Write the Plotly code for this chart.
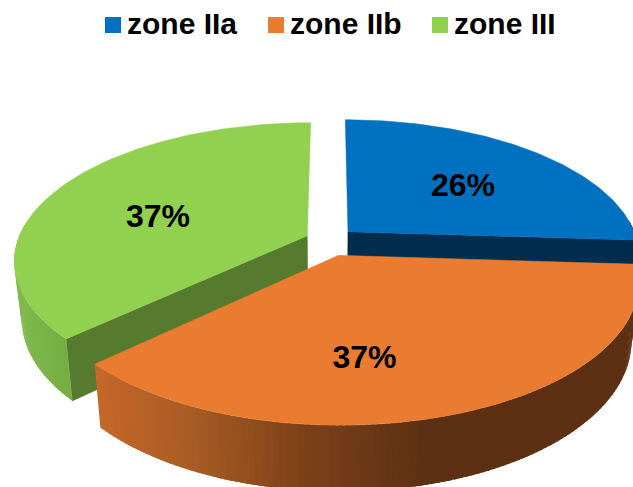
import math
import plotly.graph_objects as go

# ---- data ----
categories = ["zone IIa", "zone IIb", "zone III"]
values = [26, 37, 37]
top_colors = ["#0070C0", "#E97C30", "#92D050"]
wall_colors = ["#002C4E", "#5E3013", "#567A2E"]
# side gradient: (pixel x, colour) stops
side_stops = [
    [(0, (0, 44, 78)), (633, (0, 44, 78))],
    [(100, (196, 103, 42)), (190, (169, 92, 36)), (300, (125, 65, 25)), (420, (94, 48, 19)), (633, (94, 48, 19))],
    [(15, (130, 187, 78)), (70, (116, 174, 67))],
]

# ---- projection ----
CX, CY = 330, 241.5
RX, RY = 290, 134.7
K = 0.175
EXPLODE = 0.086
EXPLODE_Y = 1.25
DEPTH = 58.5
SHRINK = 0.024
W, H = 633, 487


def project(X, Y, z=0.0):
    s = 1 / (1 + K * Y)
    t = 1 - SHRINK * z
    return CX + RX * X * s * t, CY + (-RY * Y + DEPTH * z) * s * t


def gradient(stops, x):
    if x <= stops[0][0]:
        return stops[0][1]
    for (x0, c0), (x1, c1) in zip(stops, stops[1:]):
        if x <= x1:
            f = (x - x0) / (x1 - x0)
            return tuple(a + (b - a) * f for a, b in zip(c0, c1))
    return stops[-1][1]


total = sum(values)
slices = []
start = 0.0
for v in values:
    sweep = 360.0 * v / total
    mid = math.radians(start + sweep / 2)
    slices.append(dict(a0=start, a1=start + sweep,
                       ox=EXPLODE * math.sin(mid), oy=EXPLODE * EXPLODE_Y * math.cos(mid)))
    start += sweep


def point(sl, deg, r=1.0, z=0.0):
    a = math.radians(deg)
    return project(sl["ox"] + r * math.sin(a), sl["oy"] + r * math.cos(a), z)


def poly(pts, color, line=0.0):
    xs = [p[0] for p in pts] + [pts[0][0]]
    ys = [p[1] for p in pts] + [pts[0][1]]
    return go.Scatter(x=xs, y=ys, mode="lines", fill="toself", fillcolor=color,
                      line=dict(color=color, width=line), hoverinfo="skip",
                      showlegend=False)


def arc(sl, z=0.0, n=90):
    return [point(sl, sl["a0"] + (sl["a1"] - sl["a0"]) * i / n, 1.0, z) for i in range(n + 1)]


def side(i, a0, a1, n=130):
    sl = slices[i]
    out = []
    for j in range(n):
        d0 = a0 + (a1 - a0) * j / n
        d1 = a0 + (a1 - a0) * (j + 1.6) / n
        if j == n - 1:
            d1 = a1
        pts = [point(sl, d0), point(sl, d1), point(sl, d1, 1, 1), point(sl, d0, 1, 1)]
        xm = sum(p[0] for p in pts) / 4
        r, g, b = gradient(side_stops[i], xm)
        out.append(poly(pts, f"rgb({r:.0f},{g:.0f},{b:.0f})", 0))
    return out


def radial_wall(i, deg):
    sl = slices[i]
    pts = [point(sl, deg, 0), point(sl, deg, 1), point(sl, deg, 1, 1), point(sl, deg, 0, 1)]
    return poly(pts, wall_colors[i], 0.5)


def face(i):
    sl = slices[i]
    return poly([point(sl, 0, 0)] + arc(sl), top_colors[i], 0.5)


traces = []
blue, orange, green = 0, 1, 2
traces.append(radial_wall(blue, slices[blue]["a1"]))
traces.append(radial_wall(green, slices[green]["a0"]))
traces += side(green, 275, slices[green]["a0"], 40)
traces.append(face(green))
traces += side(blue, 85, slices[blue]["a1"], 10)
traces.append(face(blue))
traces += side(orange, slices[orange]["a0"], slices[orange]["a1"])
traces.append(face(orange))

# percentage labels: anchor (degrees, radius) inside each slice, text nudge in px
label_anchor = [(48.7, 0.575), (173.4, 0.648), (286.0, 0.556)]
LABEL_DY = 3
lab_xy = [point(slices[i], *label_anchor[i]) for i in range(3)]
traces.append(go.Scatter(
    x=[p[0] for p in lab_xy], y=[p[1] + LABEL_DY for p in lab_xy], mode="text",
    text=[f"{round(100 * v / total)}%" for v in values], textposition="middle center",
    textfont=dict(family="Liberation Sans", size=32, color="#000000", weight="bold"),
    hoverinfo="skip", showlegend=False))

# key row at the top
key_x = [113, 276, 440]
KEY_Y = 25
KEY_TEXT_DX = 14
KEY_TEXT_DY = 1
for name, col, x in zip(categories, top_colors, key_x):
    traces.append(go.Scatter(
        x=[x], y=[KEY_Y], mode="markers", name=name,
        marker=dict(symbol="square", size=16, color=col, line=dict(width=0)),
        hoverinfo="skip", showlegend=False))
    traces.append(go.Scatter(
        x=[x + KEY_TEXT_DX], y=[KEY_Y + KEY_TEXT_DY], mode="text", text=[name],
        textposition="middle right",
        textfont=dict(family="Liberation Sans", size=30, color="#000000", weight="bold"),
        hoverinfo="skip", showlegend=False))

fig = go.Figure(traces)
fig.update_layout(
    width=W, height=H, margin=dict(l=0, r=0, t=0, b=0),
    paper_bgcolor="#FFFFFF", plot_bgcolor="#FFFFFF", showlegend=False,
    xaxis=dict(range=[0, W], visible=False, fixedrange=True),
    yaxis=dict(range=[H, 0], visible=False, fixedrange=True),
)
fig.write_html("out.html", config=dict(displayModeBar=False),
               post_script="document.body.style.margin='0';document.documentElement.style.overflow='hidden';")
